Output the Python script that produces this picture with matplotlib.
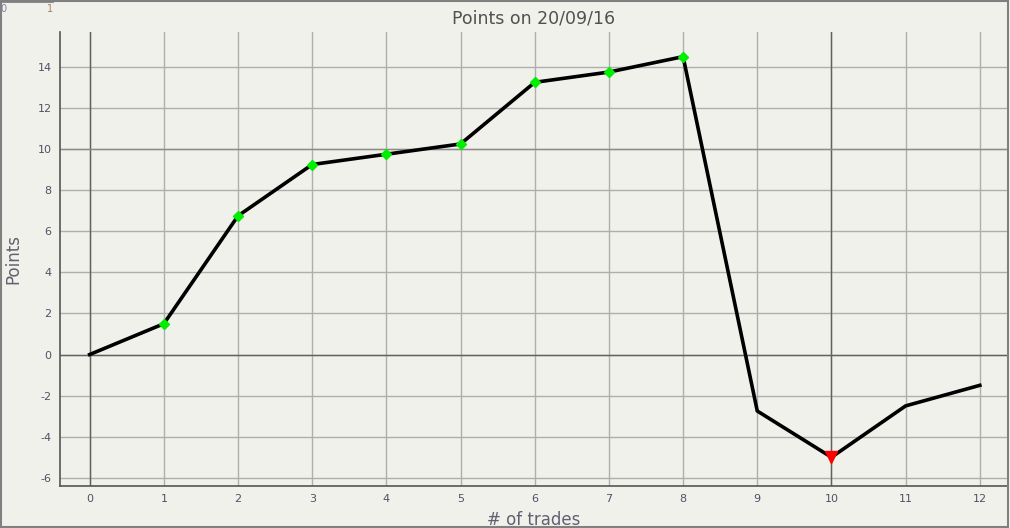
import matplotlib.pyplot as plt
from matplotlib.ticker import MultipleLocator

plt.rcParams['axes.unicode_minus'] = False

# trade number vs cumulative points
trades = [0, 1, 2, 3, 4, 5, 6, 7, 8, 9, 10, 11, 12]
points = [0, 1.5, 6.75, 9.25, 9.75, 10.25, 13.25, 13.75, 14.5, -2.75, -5.0, -2.5, -1.5]
win_trades = [1, 2, 3, 4, 5, 6, 7, 8]
loss_trades = [10]

bg = '#f1f1ec'
fig = plt.figure(figsize=(10.1, 5.28), dpi=100, facecolor=bg)
ax = fig.add_axes([60 / 1010, (528 - 486) / 528, 948 / 1010, (486 - 32) / 528])
ax.set_facecolor(bg)

ax.set_xlim(-0.4, 12.38)
ax.set_ylim(-6.4, 15.7)
ax.xaxis.set_major_locator(MultipleLocator(1))
ax.yaxis.set_major_locator(MultipleLocator(2))

# light grid everywhere, darker at 0 / 10
ax.grid(True, color='#aeaeaa', linewidth=1)
for v in (0, 10):
    ax.axvline(v, color='#606060', linewidth=1, zorder=1)
ax.axhline(0, color='#606060', linewidth=1, zorder=1)
ax.axhline(10, color='#8c8c8a', linewidth=1, zorder=1)
ax.set_axisbelow(True)

ax.plot(trades, points, color='black', linewidth=2.6, zorder=3)
ax.plot(win_trades, [points[t] for t in win_trades], linestyle='none', marker='D',
        markersize=5, color='#00ee00', zorder=4)
ax.plot(loss_trades, [points[t] for t in loss_trades], linestyle='none', marker='v',
        markersize=9, color='#ff0000', zorder=4)

for s in ('top', 'right'):
    ax.spines[s].set_visible(False)
for s in ('left', 'bottom'):
    ax.spines[s].set_color('#555555')
    ax.spines[s].set_linewidth(1.2)

ax.tick_params(length=0, labelsize=8, labelcolor='#505068', pad=6)

ax.set_title('Points on 20/09/16', fontsize=12.5, color='#505050', pad=6)
ax.set_ylabel('Points', fontsize=12, color='#606070', labelpad=0)
ax.set_xlabel('# of trades', fontsize=12, color='#606070', labelpad=5)
ax.yaxis.set_label_coords(-38 / 948, 0.5)

# stray labels in top corner
fig.text(0 / 1010, 1 - 9 / 528, '0', fontsize=7, color='#8080a0', va='center')
fig.text(47 / 1010, 1 - 9 / 528, '1', fontsize=7, color='#a08060', va='center')
fig.add_artist(plt.Line2D([0, 52 / 1010], [1 - 1 / 528, 1 - 1 / 528],
                          transform=fig.transFigure, color='#808080', linewidth=2))

# figure border
fig.add_artist(plt.Rectangle((0.0005, 0.001), 0.998, 0.997, transform=fig.transFigure,
                             fill=False, edgecolor='#808080', linewidth=1.5))

fig.savefig('out.png', dpi=100, facecolor=bg)
